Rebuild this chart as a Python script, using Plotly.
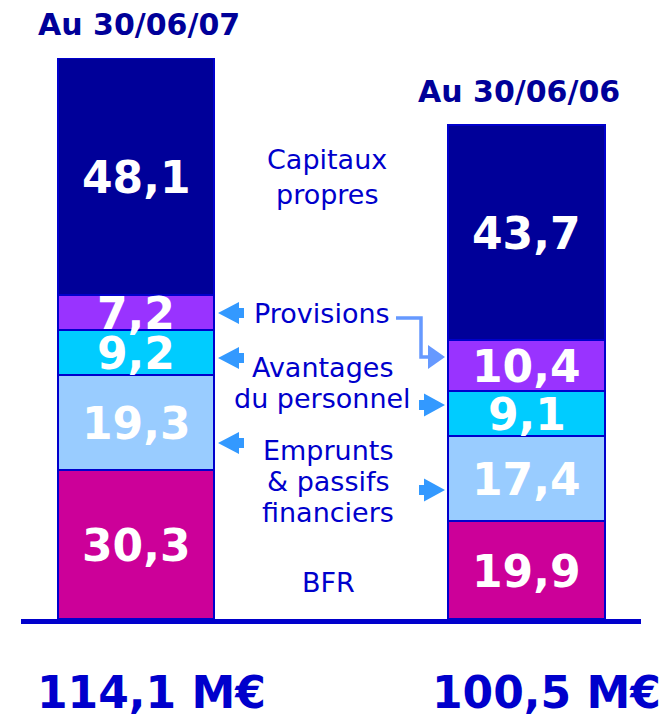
import plotly.graph_objects as go

# ---- data ----
categories = ["Au 30/06/07", "Au 30/06/06"]
series_names = ["BFR", "Emprunts & passifs financiers", "Avantages du personnel", "Provisions", "Capitaux propres"]
bfr = [30.3, 19.9]
emprunts = [19.3, 17.4]
avantages = [9.2, 9.1]
provisions = [7.2, 10.4]
capitaux = [48.1, 43.7]
totals = [114.1, 100.5]
total_labels = ["114,1 M€", "100,5 M€"]

series = [bfr, emprunts, avantages, provisions, capitaux]
colors = ["#CC0099", "#99CCFF", "#00CCFF", "#9933FF", "#000099"]

W, H = 662, 718
M_T, M_B = 58, 99
PLOT_H = H - M_T - M_B
BASE_PX = H - M_B


def fmt(v):
    return f"{v:.1f}".replace(".", ",")


def px(x, y):
    """pixel -> paper coordinates (plot area spans full width)."""
    return x / W, (BASE_PX - y) / PLOT_H


fig = go.Figure()
for name, vals, col in zip(series_names, series, colors):
    fig.add_trace(go.Bar(
        x=categories, y=vals, name=name, width=0.40,
        marker=dict(color=col, line=dict(color="#0000CC", width=2)),
        hoverinfo="skip", showlegend=False,
    ))

annotations = []
# values inside segments
for i, cat in enumerate(categories):
    cum = 0
    for vals in series:
        v = vals[i]
        annotations.append(dict(
            x=cat, y=cum + v / 2, xref="x", yref="y", text=fmt(v), showarrow=False,
            font=dict(family="DejaVu Sans", size=44, color="white", weight="bold"),
            xanchor="center", yanchor="middle", yshift=-1,
        ))
        cum += v
    # category title above bar
    annotations.append(dict(
        x=cat, y=totals[i], xref="x", yref="y", text=cat, showarrow=False,
        font=dict(family="DejaVu Sans", size=30, color="#000099", weight="bold"),
        xanchor="center", yanchor="bottom", yshift=14, xshift=3 if i == 0 else -8,
    ))
    # totals under bars
    annotations.append(dict(
        x=cat, y=px(0, 720)[1], xref="x", yref="paper", text=total_labels[i], showarrow=False,
        font=dict(family="DejaVu Sans", size=44, color="#0000CC", weight="bold"),
        xanchor="center", yanchor="bottom", xshift=15 if i == 0 else 20,
    ))

# middle legend-like labels (one annotation per line)
mid_lines = [
    ("Capitaux", 327, 160), ("propres", 327, 194),
    ("Provisions", 322, 313),
    ("Avantages", 322, 367), ("du personnel", 322, 398),
    ("Emprunts", 328, 450), ("& passifs", 328, 481), ("financiers", 328, 512),
    ("BFR", 328, 582),
]
for txt, x, y in mid_lines:
    xp, yp = px(x, y)
    annotations.append(dict(
        x=xp, y=yp, xref="paper", yref="paper", text=txt, showarrow=False,
        font=dict(family="DejaVu Sans", size=27, color="#0000CC"),
        xanchor="center", yanchor="middle",
    ))

shapes = []
# baseline
x0, y0 = px(21, 621.5)
x1, _ = px(641, 621.5)
shapes.append(dict(type="line", xref="paper", yref="paper", x0=x0, y0=y0, x1=x1, y1=y0,
                   line=dict(color="#0000CC", width=5)))

ARROW = "#3399FF"


def left_arrow(tip_x, cy):
    return [(tip_x, cy), (tip_x + 21, cy - 11), (tip_x + 21, cy - 5), (tip_x + 26, cy - 5),
            (tip_x + 26, cy + 5), (tip_x + 21, cy + 5), (tip_x + 21, cy + 11)]


def right_arrow(tip_x, cy):
    return [(tip_x, cy), (tip_x - 21, cy - 11.5), (tip_x - 21, cy - 5), (tip_x - 26, cy - 5),
            (tip_x - 26, cy + 5), (tip_x - 21, cy + 5), (tip_x - 21, cy + 11.5)]


def path_of(pts, close=True):
    s = ""
    for k, (a, b) in enumerate(pts):
        xp, yp = px(a, b)
        s += ("M" if k == 0 else "L") + f"{xp:.5f},{yp:.5f} "
    return s + ("Z" if close else "")


for cy in (313, 358, 443):
    shapes.append(dict(type="path", xref="paper", yref="paper", path=path_of(left_arrow(218, cy)),
                       fillcolor=ARROW, line=dict(width=0)))
for cy in (405, 490):
    shapes.append(dict(type="path", xref="paper", yref="paper", path=path_of(right_arrow(445, cy)),
                       fillcolor=ARROW, line=dict(width=0)))

# elbow connector for Provisions
conn = [(396, 318), (421, 318), (421, 357), (428, 357)]
shapes.append(dict(type="path", xref="paper", yref="paper", path=path_of(conn, close=False),
                   line=dict(color="#6699FF", width=3.5)))
elbow_head = [(445, 357), (428, 345), (428, 369)]
shapes.append(dict(type="path", xref="paper", yref="paper", path=path_of(elbow_head),
                   fillcolor="#6699FF", line=dict(width=0)))

# x range so bar centres land at 136 px and 526.5 px
step = 526.5 - 136
x_lo = -136 / step
x_hi = x_lo + W / step

fig.update_layout(
    barmode="stack",
    width=W, height=H,
    margin=dict(l=0, r=0, t=M_T, b=M_B, pad=0),
    paper_bgcolor="white", plot_bgcolor="white",
    xaxis=dict(visible=False, range=[x_lo, x_hi]),
    yaxis=dict(visible=False, range=[0, totals[0]]),
    annotations=annotations,
    shapes=shapes,
    showlegend=False,
)

fig.write_html("out.html", config={"displayModeBar": False},
               post_script="document.body.style.margin='0';")
